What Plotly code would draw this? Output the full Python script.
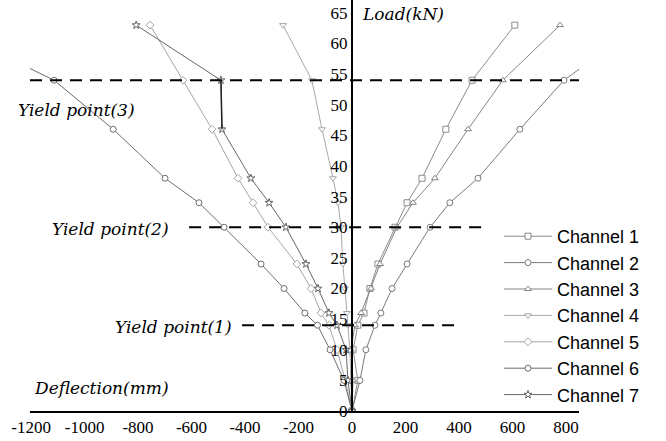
import plotly.graph_objects as go

# Load levels (kN)
loads = [0, 5, 10, 14, 16, 20, 24, 30, 34, 38, 46, 54, 63]

# Deflection (mm) per channel
ch1 = [0, 22, 4, 22, 45, 67, 97, 161, 206, 262, 351, 449, 609]
ch2 = [0, 30, 52, 86, 108, 150, 206, 292, 366, 471, 628, 793, 1073]
ch3 = [0, 4, -4, 11, 34, 71, 105, 168, 228, 310, 434, 564, 778]
ch4 = [0, -4, -8, -15, -19, -26, -34, -41, -52, -71, -112, -150, -258]
ch5 = [0, -25, -56, -86, -116, -153, -206, -314, -370, -426, -523, -632, -755]
ch6 = [0, -30, -82, -129, -176, -254, -340, -478, -572, -699, -893, -1114, -1537]
ch7 = [0, -15, -22, -56, -86, -127, -172, -247, -310, -378, -486, -490, -807]

channel_names = ["Channel 1", "Channel 2", "Channel 3", "Channel 4",
                 "Channel 5", "Channel 6", "Channel 7"]

x_tickvals = [-1200, -1000, -800, -600, -400, -200, 0, 200, 400, 600, 800]
x_ticktext = ["-1200", "-1000", "-800", "-600", "-400", "-200", "0",
              "200", "400", "600", "800"]
y_tickvals = [0, 5, 10, 15, 20, 25, 30, 35, 40, 45, 50, 55, 60, 65]

# yield point levels and extents
yield_loads = [54, 30, 14]
yield_x0 = [-1204, -609, -411]
yield_x1 = [849, 486, 393]

series = [ch1, ch2, ch3, ch4, ch5, ch6, ch7]
symbols = ["square", "circle", "triangle-up", "triangle-down",
           "diamond", "circle", "star"]
colors = ["#8c8c8c", "#7a7a7a", "#858585", "#a8a8a8", "#a5a5a5", "#6e6e6e", "#666666"]

fig = go.Figure()
for name, xs, sym, col in zip(channel_names, series, symbols, colors):
    fig.add_trace(go.Scatter(
        x=xs, y=loads, name=name, mode="lines+markers",
        line=dict(color=col, width=1),
        marker=dict(symbol=sym, size=6, color="white",
                    line=dict(color=col, width=1)),
    ))

for yl, x0, x1 in zip(yield_loads, yield_x0, yield_x1):
    fig.add_shape(type="line", xref="x", yref="y", x0=x0, x1=x1, y0=yl, y1=yl,
                  line=dict(color="black", width=2, dash="12px,8px"))

# vertical dark segment for channel 7 between 46 and 54
fig.add_shape(type="line", xref="x", yref="y", x0=ch7[10], x1=ch7[11],
              y0=loads[10], y1=loads[11], line=dict(color="#222222", width=1.5))

L, R, T, B = 30, 87, 0, 30
W, H = 666, 441
pw, ph = W - L - R, H - T - B


def px(xp):
    return (xp - L) / pw


def py(yp):
    return (H - B - yp) / ph


it_font = dict(family="DejaVu Serif", size=17, color="black", style="italic")
ann = [
    ("Load(kN)", 360, 14),
    ("Deflection(mm)", 32, 388),
    ("Yield point(3)", 16, 110),
    ("Yield point(2)", 50, 229),
    ("Yield point(1)", 113, 327),
]
for txt, xx, yy in ann:
    fig.add_annotation(text=txt, xref="paper", yref="paper", x=px(xx), y=py(yy),
                       xanchor="left", yanchor="middle", showarrow=False,
                       font=it_font)

fig.update_layout(
    template="none",
    width=W, height=H,
    margin=dict(l=L, r=R, t=T, b=B, pad=0),
    plot_bgcolor="white", paper_bgcolor="white",
    showlegend=True,
    legend=dict(x=px(499), y=py(218), xanchor="left", yanchor="top",
                bgcolor="rgba(0,0,0,0)", itemwidth=48,
                font=dict(family="Liberation Sans", size=18, color="black"),
                tracegroupgap=0),
    xaxis=dict(range=[-1204, 849], tickvals=x_tickvals, ticktext=x_ticktext,
               showgrid=False, zeroline=False, showline=True, linecolor="black",
               linewidth=2, ticks="", automargin=False,
               tickfont=dict(family="Liberation Serif", size=17, color="black")),
    yaxis=dict(range=[0, 67.1], tickvals=y_tickvals, showgrid=False,
               zeroline=False, showline=True, linecolor="black", linewidth=2,
               ticks="", anchor="free", position=px(352), automargin=False,
               tickfont=dict(family="Liberation Serif", size=17, color="black")),
)

fig.write_html("out.html", config={"displayModeBar": False},
               post_script="document.body.style.margin='0';document.body.style.padding='0';")
